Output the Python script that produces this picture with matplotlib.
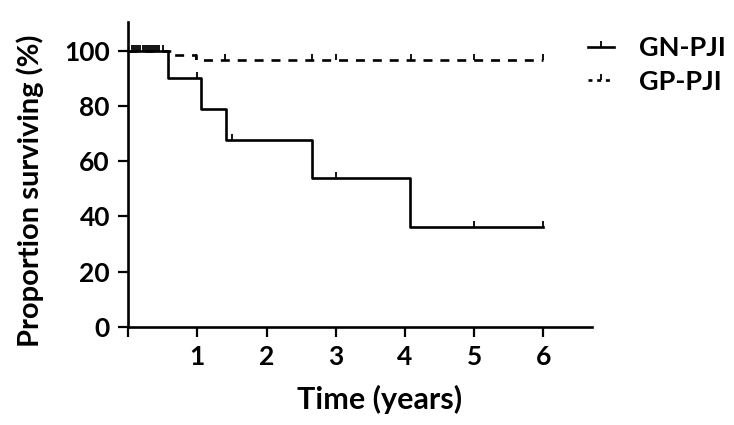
import numpy as np
import matplotlib
matplotlib.use("Agg")
import matplotlib.pyplot as plt
from matplotlib.path import Path
from matplotlib.lines import Line2D

# ---- data ----
gn_times = [0, 0.58, 1.06, 1.42, 2.66, 4.07, 6.0]
gn_surv = [100, 90, 78.75, 67.5, 54, 36, 36]
gn_censor_t = [0.06, 0.12, 0.18, 0.24, 0.30, 0.36, 0.42, 0.50, 1.0, 1.5, 3.0, 5.0, 6.0]

gp_times = [0, 0.62, 0.98, 6.0]
gp_surv = [100, 98.3, 96.6, 96.6]
gp_censor_t = [0.09, 0.15, 0.21, 0.27, 0.33, 0.39, 0.45, 0.98, 1.4, 2.65, 3.0, 4.09, 5.0, 6.0]

series_names = ["GN-PJI", "GP-PJI"]
x_ticks = [0, 1, 2, 3, 4, 5, 6]
x_tick_labels = ["", "1", "2", "3", "4", "5", "6"]
y_ticks = [0, 20, 40, 60, 80, 100]

plt.rcParams['font.family'] = ['Lato', 'DejaVu Sans']
plt.rcParams['font.weight'] = 'bold'

fig = plt.figure(figsize=(7.34, 4.25), dpi=100)
ax = fig.add_axes([0.1744, 0.2313, 0.8065 - 0.1744, 0.948 - 0.2313])

tick_marker = Path([(0, 0), (0, 1)], [Path.MOVETO, Path.LINETO])


def step_value(times, surv, t):
    idx = np.searchsorted(times, t, side='right') - 1
    return np.asarray(surv)[idx]


lw = 1.9
ms = 8
mew = 1.3
ax.step(gn_times, gn_surv, where='post', color='black', lw=lw)
ax.step(gp_times, gp_surv, where='post', color='black', lw=lw, dashes=(3.4, 3.0))

gn_cy = step_value(gn_times, gn_surv, gn_censor_t)
gp_cy = step_value(gp_times, gp_surv, gp_censor_t)
ax.plot(gn_censor_t, gn_cy, ls='none', marker=tick_marker, ms=ms, mec='black', mew=mew)
ax.plot(gp_censor_t, gp_cy, ls='none', marker=tick_marker, ms=ms, mec='black', mew=mew)

h1 = Line2D([], [], color='black', lw=lw, marker=tick_marker, ms=ms, mew=mew)
h2 = Line2D([], [], color='black', lw=lw, dashes=(1.5, 1.8), marker=tick_marker, ms=ms, mew=mew)
leg = fig.legend([h1, h2], series_names, loc='upper left', bbox_to_anchor=(0.787, 0.94),
                 frameon=False, handlelength=0.95, handletextpad=0.9,
                 borderaxespad=0.2, borderpad=0.2,
                 labelspacing=0.35, prop={'family': 'Lato', 'weight': 'bold', 'size': 19.5})

ax.set_xlim(0, 6.7)
ax.set_ylim(0, 110.4)
ax.set_xticks(x_ticks)
ax.set_xticklabels(x_tick_labels)
ax.set_yticks(y_ticks)

for s in ['top', 'right']:
    ax.spines[s].set_visible(False)
for s in ['left', 'bottom']:
    ax.spines[s].set_linewidth(1.9)

ax.tick_params(axis='both', length=7, width=1.6, labelsize=19, pad=6)
for lab in ax.get_xticklabels() + ax.get_yticklabels():
    lab.set_fontweight('bold')

ax.set_xlabel("Time (years)", fontsize=22, fontweight='bold')
ax.set_ylabel("Proportion surviving (%)", fontsize=21, fontweight='bold')
ax.xaxis.set_label_coords(0.543, -0.239)
ax.yaxis.set_label_coords(-0.211, 0.446)
ax.xaxis.label.set_verticalalignment('center')
ax.yaxis.label.set_verticalalignment('center')

fig.savefig("out.png", dpi=100)
